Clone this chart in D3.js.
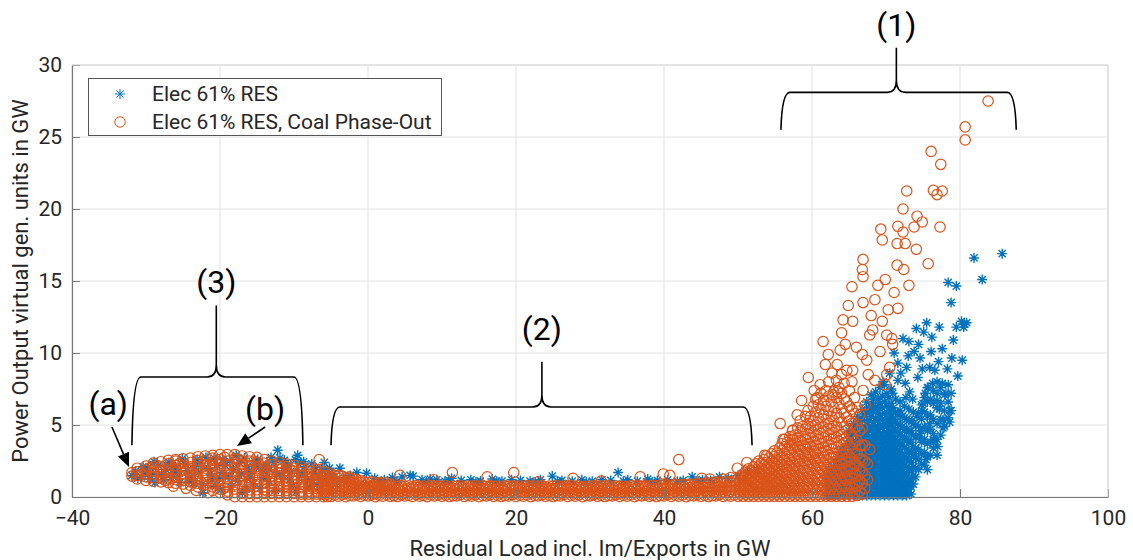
<!DOCTYPE html>
<html>
<head>
<meta charset="utf-8">
<script src="https://cdn.jsdelivr.net/npm/d3@7"></script>
<style>
  body { margin: 0; background: #fff; }
  svg text { font-family: Roboto, "Noto Sans", sans-serif; fill: #262626; }
</style>
</head>
<body>
<div id="chart"></div>
<script>
const xTicks = [-40, -20, 0, 20, 40, 60, 80, 100];
const yTicks = [0, 5, 10, 15, 20, 25, 30];
const seriesNames = ["Elec 61% RES", "Elec 61% RES, Coal Phase-Out"];

// Elec 61% RES (blue stars) -- [x, y] in GW
const blueBlob = [
  [-31.9,1.5],[-31.4,1.8],[-30.6,1.4],[-29.8,2.0],[-29.1,1.6],[-28.3,2.2],[-27.6,1.2],[-26.9,2.4],
  [-26.2,1.7],[-25.4,1.0],[-24.7,2.3],[-23.9,1.4],[-23.1,2.6],[-22.4,0.9],[-21.6,2.0],[-20.8,2.7],
  [-20.1,1.3],[-19.3,2.2],[-18.5,0.7],[-17.8,2.9],[-17.1,1.6],[-16.3,2.1],[-15.5,0.9],[-14.9,2.6],
  [-14.2,1.8],[-13.4,1.1],[-12.7,2.4],[-12.2,3.25],[-11.5,1.5],[-10.8,2.2],[-10.1,0.8],[-9.5,2.9],
  [-8.9,1.7],[-8.2,1.2],[-7.6,2.3],[-6.9,0.9],[-6.2,1.9],[-5.5,1.4],[-4.8,1.6],[-3.8,2.0],
  [-3.1,1.3],[-2.4,1.5],[-1.5,1.7],[-22.3,0.3],[-19.9,0.5],[-17.0,0.3],[-28.8,1.0],[-25.9,2.0],
  [-30.1,1.75],[-27.3,1.9],[-24.2,1.1],[-22.9,1.7],[-21.1,1.2],[-19.6,2.6],[-18.2,1.9],[-16.7,2.7],
  [-15.9,1.4],[-13.8,2.2],[-11.9,2.7],[-10.4,1.8],[-9.1,2.4],[-7.3,1.7],[-5.9,2.4],[-4.3,1.1],
  [-31.1,1.3],[-28.9,2.45],[-26.6,1.35],[-25.1,2.65],[-23.4,2.1],[-21.9,2.75],[-20.4,2.2],[-18.9,1.4],
  [-17.4,2.4],[-15.1,2.1],[-13.1,2.75],[-11.2,2.0],[-9.8,2.6],[-8.5,2.1],[-6.6,1.4],[-5.2,2.0],
  [-30.4,2.1],[-29.5,1.25],[-27.9,1.55],[-26.4,2.2],[-25.6,1.45],[-24.4,1.85],[-23.6,0.95],[-22.6,2.35],
  [-21.3,1.6],[-20.6,0.75],[-19.7,1.7],[-18.7,2.5],[-17.6,1.15],[-16.5,0.55],[-16.1,1.8],[-15.3,2.45],
  [-14.6,0.6],[-14.1,1.35],[-13.3,1.9],[-12.5,0.45],[-12.0,1.55],[-11.3,2.55],[-10.6,1.2],[-9.7,0.35],
  [-9.3,1.45],[-8.7,2.45],[-7.9,0.7],[-7.1,2.05],[-6.4,0.5],[-5.7,1.2]
];
const blueBand = [
  [-0.2,1.65],[0.9,1.3],[2.2,1.2],[3.3,1.35],[4.6,1.4],[5.7,1.5],[6.1,1.45],[7.3,1.2],[8.4,1.25],
  [9.3,1.2],[10.4,1.1],[11.3,1.3],[12.6,1.15],[13.9,1.2],[15.2,1.1],[16.8,1.25],[18.1,1.1],[19.4,1.2],
  [20.6,1.15],[21.9,1.1],[23.3,1.2],[24.9,1.45],[26.2,1.15],[27.6,1.1],[28.9,1.2],[30.3,1.1],[31.6,1.2],
  [32.8,1.15],[33.8,1.7],[35.1,1.2],[36.4,1.1],[37.8,1.25],[39.1,1.15],[40.5,1.2],[41.8,1.1],[43.8,1.4],
  [45.2,1.2],[46.3,1.15],[47.5,1.4],[48.7,1.3],[50.0,1.5],[51.3,1.7],[52.6,1.9],
  [1.6,1.05],[3.9,1.1],[7.9,1.05],[10.9,1.15],[14.6,1.05],[17.4,1.1],[22.6,1.05],[25.6,1.1],[29.5,1.05],
  [34.5,1.1],[38.4,1.05],[42.6,1.15],[44.6,1.1]
];
// columns: [x, y1, y2, ...]
const blueRiseCols = [
  [62.0,0.1,0.5,0.9,1.3],[62.3,0.3,0.7,1.1,1.6],[62.6,0.1,0.5,0.9,1.4,1.9],[62.9,0.3,0.7,1.2,1.6,2.1],
  [63.2,0.1,0.5,0.9,1.4,1.8,2.4],[63.5,0.3,0.7,1.1,1.6,2.0,2.6],[63.8,0.1,0.5,0.9,1.3,1.8,2.3,2.9],
  [64.1,0.3,0.7,1.1,1.5,2.0,2.5,3.2],[64.4,0.1,0.5,0.9,1.3,1.7,2.2,2.7,3.4],[64.7,0.3,0.7,1.1,1.5,1.9,2.4,2.9,3.7],
  [65.0,0.1,0.5,0.9,1.3,1.7,2.1,2.6,3.1,3.9,4.6],[65.3,0.3,0.7,1.1,1.5,1.9,2.3,2.8,3.4,4.2],
  [65.6,0.1,0.5,0.9,1.3,1.7,2.1,2.5,3.0,3.6,4.4,5.1],[65.9,0.3,0.7,1.1,1.5,1.9,2.3,2.7,3.2,3.8,4.7],
  [66.2,0.1,0.5,0.9,1.3,1.7,2.1,2.5,2.9,3.4,4.0,4.9,5.6],[66.5,0.3,0.7,1.1,1.5,1.9,2.3,2.7,3.1,3.6,4.3,5.2],
  [66.8,0.1,0.5,0.9,1.3,1.7,2.1,2.5,2.9,3.3,3.8,4.5,5.4,6.1],[67.1,0.3,0.7,1.1,1.5,1.9,2.3,2.7,3.1,3.5,4.1,4.8,5.7],
  [67.4,0.1,0.5,0.9,1.3,1.7,2.1,2.5,2.9,3.3,3.7,4.3,5.0,5.9,6.6],[67.7,0.3,0.7,1.1,1.5,1.9,2.3,2.7,3.1,3.5,3.9,4.6,5.3,6.2],
  [68.0,0.1,0.5,0.9,1.3,1.7,2.1,2.5,2.9,3.3,3.7,4.2,4.9,5.6,6.5,7.1],[68.3,0.3,0.7,1.1,1.5,1.9,2.3,2.7,3.1,3.5,4.0,4.5,5.2,6.0,6.8],
  [68.6,0.1,0.5,0.9,1.3,1.7,2.1,2.5,2.9,3.3,3.8,4.3,4.9,5.5,6.3,7.3],[68.9,0.3,0.7,1.1,1.5,1.9,2.3,2.7,3.1,3.6,4.1,4.7,5.3,6.0,6.8],
  [69.2,0.1,0.5,0.9,1.3,1.7,2.1,2.5,2.9,3.4,3.9,4.4,5.0,5.7,6.5,7.6],[69.5,0.3,0.7,1.1,1.5,1.9,2.3,2.7,3.2,3.7,4.2,4.8,5.4,6.2,7.0],
  [69.8,0.1,0.5,0.9,1.3,1.7,2.1,2.5,3.0,3.5,4.0,4.5,5.1,5.8,6.6,7.8],[70.1,0.3,0.7,1.1,1.5,1.9,2.3,2.8,3.3,3.8,4.3,4.9,5.5,6.3,7.2],
  [70.4,0.1,0.5,0.9,1.3,1.7,2.1,2.6,3.1,3.6,4.1,4.6,5.2,6.0,6.9],[70.7,0.3,0.7,1.1,1.5,1.9,2.4,2.9,3.4,3.9,4.4,5.0,5.7,6.5,7.5],
  [71.0,0.1,0.5,0.9,1.3,1.7,2.2,2.7,3.2,3.7,4.2,4.8,5.4,6.2],[71.3,0.3,0.7,1.1,1.5,2.0,2.5,3.0,3.5,4.0,4.6,5.2,5.9,6.8],
  [71.6,0.1,0.5,0.9,1.3,1.8,2.3,2.8,3.3,3.9,4.5,5.1,5.8],[71.9,0.3,0.7,1.1,1.6,2.1,2.6,3.1,3.7,4.3,5.0,5.7,6.6],
  [72.2,0.1,0.5,0.9,1.4,1.9,2.4,3.0,3.6,4.2,4.9,5.6],[72.5,0.3,0.7,1.2,1.7,2.2,2.8,3.4,4.0,4.7,5.5,6.3],
  [72.8,0.1,0.5,1.0,1.5,2.1,2.7,3.3,4.0,4.7,5.4],[73.1,0.3,0.8,1.3,1.9,2.5,3.1,3.8,4.5,5.3,6.1],
  [73.4,0.2,0.7,1.2,1.8,2.4,3.1,3.8,4.6],[73.7,0.9,1.5,2.1,2.8,3.5,4.3,5.1,5.9],[74.0,1.4,2.0,2.7,3.4,4.2,5.0],
  [74.4,1.9,2.6,3.3,4.1,4.9,5.8],[74.8,2.3,3.0,3.8,4.6,5.4,6.4],[75.2,2.2,3.1,4.0,4.9,5.9,6.9],
  [75.6,1.9,2.8,3.7,4.6,5.6,6.6,7.6],[76.0,2.9,3.8,4.7,5.7,6.8],[76.4,3.4,4.4,5.4,6.5,7.4],
  [76.9,2.9,4.0,5.1,6.2,7.2,8.0],[77.4,4.3,5.4,6.5,7.6],[77.9,4.9,6.0,7.1],[78.4,5.5,6.6,7.8],[78.8,6.0,7.2]
];
const blueTop = [
  [85.7,16.9],[81.9,16.6],[83.0,15.1],[78.4,14.9],[79.5,14.65],[78.8,13.5],[80.9,12.1],[80.5,11.8],
  [79.5,11.8],[77.2,11.8],[75.5,12.1],[74.1,11.7],[75.1,11.45],[76.2,11.1],[73.1,10.8],[77.6,10.3],
  [78.9,9.65],[80.3,9.5],[73.8,10.1],[74.6,9.65],[71.6,9.3],[72.8,9.0],[76.6,8.8],[79.7,8.4],[74.3,8.3],
  [71.6,8.1],[77.6,7.9],[75.7,7.6],[73.2,7.3],[70.5,8.6],[76.9,6.7],[77.7,5.35],[78.6,6.0],[76.4,4.0],
  [68.2,6.0],[70.5,5.35],[71.9,6.0],[74.9,6.0],[80.6,12.0],[80.2,12.2],[75.9,9.0],[73.0,9.8],[72.3,11.0],
  [70.9,7.2],[69.6,8.0],[72.0,8.6],[74.9,8.9],[76.1,10.1],[78.3,8.9],[73.6,6.8],[75.3,7.2],[77.1,9.4],
  [71.1,10.0],[79.1,10.9],[74.4,10.6],[72.6,7.9],
  [73.9,3.0],[74.6,4.4],[75.4,2.6],[75.9,5.1],[76.6,3.9],[77.2,6.1],[77.7,4.8],[78.1,7.2],[74.2,5.6],
  [75.0,6.5],[76.3,7.9],[73.5,5.3],[72.7,6.9],[77.0,3.5],[78.6,5.2]
];

// Elec 61% RES, Coal Phase-Out (orange circles)
const orangeBlobCols = [
  [-31.9,1.45,1.7],[-31.2,1.25,1.5,1.75,2.0],[-30.0,1.15,1.4,1.6,1.85,2.15],[-29.0,1.1,1.35,1.6,1.85,2.1,2.35],
  [-28.0,1.05,1.3,1.55,1.85,2.1,2.45],[-27.0,1.0,1.25,1.5,1.75,2.0,2.3,2.55],
  [-26.0,0.95,1.2,1.45,1.7,1.95,2.2,2.5,2.6],[-25.0,0.9,1.15,1.4,1.65,1.9,2.15,2.4,2.65],
  [-24.0,0.8,1.05,1.3,1.6,1.85,2.1,2.4,2.7],[-23.0,0.7,0.95,1.25,1.5,1.8,2.05,2.3,2.55,2.8],
  [-22.0,0.6,0.85,1.15,1.45,1.7,2.0,2.25,2.5,2.85],[-21.0,0.45,0.7,1.0,1.3,1.55,1.85,2.15,2.4,2.7,2.9],
  [-20.0,0.3,0.55,0.85,1.15,1.45,1.75,2.0,2.3,2.6,2.95],[-19.0,0.15,0.4,0.7,1.0,1.3,1.6,1.9,2.2,2.5,2.95],
  [-18.0,0.02,0.3,0.55,0.85,1.15,1.45,1.75,2.05,2.35,2.65,2.95],[-17.0,0.02,0.25,0.55,0.8,1.1,1.4,1.65,1.95,2.25,2.5,2.85],
  [-16.0,0.02,0.25,0.5,0.8,1.05,1.35,1.6,1.9,2.2,2.5,2.8],[-15.0,0.02,0.25,0.5,0.75,1.0,1.3,1.55,1.85,2.1,2.4,2.75],
  [-14.0,0.02,0.25,0.5,0.7,1.0,1.25,1.5,1.8,2.05,2.35,2.6],[-13.0,0.02,0.25,0.45,0.7,0.95,1.2,1.45,1.75,2.0,2.25,2.5],
  [-12.0,0.02,0.25,0.45,0.7,0.9,1.15,1.4,1.65,1.9,2.15,2.4],[-11.0,0.02,0.25,0.45,0.65,0.9,1.1,1.35,1.6,1.85,2.1,2.3],
  [-10.0,0.02,0.25,0.45,0.65,0.85,1.1,1.3,1.55,1.8,2.0,2.2],[-9.0,0.02,0.2,0.4,0.65,0.85,1.05,1.25,1.5,1.7,1.9,2.1],
  [-8.0,0.02,0.2,0.4,0.6,0.8,1.0,1.2,1.4,1.6,1.8,2.0],[-7.0,0.02,0.2,0.4,0.6,0.8,0.95,1.15,1.35,1.55,1.75,1.9],
  [-6.0,0.02,0.2,0.4,0.55,0.75,0.95,1.1,1.3,1.5,1.8],[-5.5,0.03,0.2,0.4,0.55,0.75,0.9,1.1,1.25,1.45,1.7]
];
const orangeBandCols = [
  [-5.0,0.03,0.28,0.55,0.84,1.05,1.35,1.6],[-4.5,0.14,0.38,0.66,0.93,1.15,1.5],[-4.0,0.06,0.31,0.58,0.8,1.05,1.3,1.5],
  [-3.5,0.17,0.42,0.7,0.88,1.15,1.45],[-3.0,0.02,0.26,0.52,0.79,1.05,1.35],[-2.5,0.11,0.36,0.63,0.86,1.1,1.3],
  [-2.0,0.07,0.33,0.6,0.77,1.0,1.25],[-1.5,0.15,0.4,0.67,0.82,1.05,1.2],[-1.0,0.04,0.27,0.54,0.76,1.0,1.15],
  [-0.5,0.12,0.37,0.62,0.8,1.05],[0.0,0.08,0.3,0.57,0.74,1.0],[0.5,0.16,0.41,0.65,0.79,1.05],
  [1.0,0.02,0.25,0.51,0.73,0.95],[1.5,0.13,0.35,0.6,0.78,1.0],[2.0,0.06,0.32,0.56,0.72,0.95],[2.5,0.18,0.43,0.66,0.8,0.98],
  [3.0,0.05,0.28,0.53,0.75,0.92],[3.5,0.1,0.34,0.61,0.77],[4.0,0.03,0.3,0.55,0.71],[4.5,0.15,0.39,0.64,0.79],
  [5.0,0.07,0.26,0.5,0.74],[5.5,0.12,0.36,0.62,0.78],[6.0,0.04,0.31,0.57,0.72],[6.5,0.17,0.42,0.67,0.8],
  [7.0,0.06,0.27,0.52,0.75],[7.5,0.11,0.35,0.6,0.77],[8.0,0.02,0.29,0.54,0.71],[8.5,0.14,0.4,0.65,0.79],
  [9.0,0.08,0.33,0.58,0.74],[9.5,0.16,0.37,0.63,0.78],[10.0,0.05,0.26,0.51,0.73],[10.5,0.13,0.38,0.61,0.8],
  [11.0,0.03,0.3,0.56,0.72],[11.5,0.1,0.34,0.6,0.76],[12.0,0.07,0.28,0.53,0.74],[12.5,0.18,0.41,0.66,0.79],
  [13.0,0.04,0.32,0.55,0.71],[13.5,0.12,0.36,0.62,0.77],[14.0,0.06,0.27,0.5,0.75],[14.5,0.15,0.39,0.64,0.8],
  [15.0,0.02,0.31,0.57,0.73],[15.5,0.11,0.35,0.59,0.78],[16.0,0.08,0.29,0.54,0.72],[16.5,0.16,0.4,0.65,0.79],
  [17.0,0.05,0.33,0.56,0.74],[17.5,0.13,0.37,0.61,0.76],[18.0,0.03,0.26,0.52,0.71],[18.5,0.1,0.38,0.63,0.8],
  [19.0,0.07,0.3,0.55,0.73],[19.5,0.17,0.42,0.66,0.78],[20.0,0.04,0.28,0.53,0.75],[20.5,0.12,0.34,0.6,0.77],
  [21.0,0.06,0.31,0.57,0.72],[21.5,0.14,0.39,0.64,0.79],[22.0,0.02,0.27,0.51,0.74],[22.5,0.11,0.36,0.62,0.78],
  [23.0,0.08,0.32,0.55,0.73],[23.5,0.16,0.41,0.65,0.8],[24.0,0.05,0.29,0.54,0.71],[24.5,0.13,0.35,0.6,0.76],
  [25.0,0.03,0.3,0.56,0.74],[25.5,0.1,0.38,0.63,0.79],[26.0,0.07,0.26,0.52,0.72],[26.5,0.18,0.4,0.66,0.77],
  [27.0,0.04,0.33,0.58,0.75],[27.5,0.12,0.37,0.61,0.8],[28.0,0.06,0.28,0.53,0.73],[28.5,0.15,0.39,0.64,0.78],
  [29.0,0.02,0.31,0.55,0.71],[29.5,0.11,0.34,0.6,0.76],[30.0,0.08,0.29,0.54,0.74],[30.5,0.16,0.42,0.67,0.79],
  [31.0,0.05,0.27,0.51,0.72],[31.5,0.13,0.36,0.62,0.77],[32.0,0.03,0.32,0.57,0.75],[32.5,0.1,0.38,0.63,0.8],
  [33.0,0.07,0.3,0.55,0.73],[33.5,0.17,0.41,0.65,0.78],[34.0,0.04,0.26,0.52,0.74],[34.5,0.12,0.35,0.6,0.76],
  [35.0,0.06,0.33,0.58,0.72],[35.5,0.14,0.39,0.64,0.79],[36.0,0.02,0.28,0.53,0.75],[36.5,0.11,0.37,0.62,0.8],
  [37.0,0.08,0.31,0.56,0.74],[37.5,0.16,0.4,0.66,0.78],[38.0,0.05,0.29,0.54,0.76],[38.5,0.13,0.36,0.61,0.81],
  [39.0,0.03,0.32,0.57,0.77],[39.5,0.1,0.38,0.64,0.83],[40.0,0.07,0.3,0.58,0.79],[40.5,0.17,0.42,0.67,0.85],
  [41.0,0.04,0.28,0.55,0.8],[41.5,0.12,0.37,0.63,0.86],[42.0,0.06,0.33,0.6,0.82],[42.5,0.14,0.4,0.68,0.88],
  [43.0,0.02,0.3,0.57,0.84],[43.5,0.11,0.38,0.65,0.9],[44.0,0.08,0.34,0.62,0.87],[44.5,0.16,0.43,0.7,0.93],
  [45.0,0.05,0.31,0.6,0.89],[45.5,0.13,0.4,0.68,0.96],[46.0,0.03,0.35,0.64,0.92],[46.5,0.1,0.42,0.72,1.0],
  [47.0,0.07,0.37,0.67,0.97],[47.5,0.17,0.46,0.76,1.05],[48.0,0.04,0.36,0.68,1.0,1.25],[48.5,0.12,0.44,0.76,1.08],
  [49.0,0.06,0.39,0.72,1.05,1.35],[49.5,0.14,0.47,0.8,1.12]
];
const orangeRiseCols = [
  [50.0,0.05,0.35,0.65,0.95,1.25],[50.35,0.2,0.5,0.8,1.1,1.45],[50.7,0.05,0.35,0.65,0.95,1.3,1.6],
  [51.05,0.2,0.5,0.8,1.1,1.45,1.8],[51.4,0.05,0.35,0.65,0.95,1.3,1.65,1.95],[51.75,0.2,0.5,0.8,1.15,1.5,1.85],
  [52.1,0.05,0.35,0.65,1.0,1.35,1.7,2.1],[52.45,0.2,0.5,0.85,1.2,1.55,1.9,2.3],
  [52.8,0.05,0.35,0.7,1.05,1.4,1.75,2.1,2.5],[53.15,0.2,0.55,0.9,1.25,1.6,1.95,2.35],
  [53.5,0.05,0.4,0.75,1.1,1.45,1.8,2.2,2.6],[53.85,0.2,0.55,0.9,1.25,1.6,2.0,2.4,2.85],
  [54.2,0.05,0.4,0.75,1.1,1.5,1.9,2.3,2.7],[54.55,0.2,0.55,0.9,1.3,1.7,2.1,2.5,3.0],
  [54.9,0.05,0.4,0.75,1.15,1.55,1.95,2.35,2.8,3.2],[55.25,0.2,0.55,0.95,1.35,1.75,2.15,2.6,3.05],
  [55.6,0.05,0.4,0.8,1.2,1.6,2.0,2.45,2.9,3.4],[55.95,0.2,0.6,1.0,1.4,1.8,2.25,2.7,3.2,3.7],
  [56.3,0.05,0.4,0.8,1.2,1.65,2.1,2.55,3.0,3.5,4.0],[56.65,0.2,0.6,1.0,1.45,1.9,2.35,2.8,3.3,3.8],
  [57.0,0.05,0.45,0.85,1.25,1.7,2.15,2.6,3.1,3.6,4.2],[57.35,0.2,0.6,1.05,1.5,1.95,2.4,2.9,3.4,4.0,4.6],
  [57.7,0.05,0.45,0.85,1.3,1.75,2.2,2.7,3.2,3.75,4.3],[58.05,0.2,0.6,1.05,1.5,1.95,2.45,2.95,3.5,4.1,4.8],
  [58.4,0.05,0.45,0.9,1.35,1.8,2.3,2.8,3.3,3.9,4.5,5.3],[58.75,0.2,0.65,1.1,1.55,2.0,2.5,3.05,3.6,4.2,4.9],
  [59.1,0.05,0.45,0.9,1.35,1.85,2.35,2.85,3.4,4.0,4.7,5.6],[59.45,0.2,0.65,1.1,1.6,2.1,2.6,3.1,3.7,4.35,5.1,6.0],
  [59.8,0.05,0.5,0.95,1.4,1.9,2.4,2.95,3.5,4.1,4.8,5.6],[60.15,0.2,0.65,1.15,1.65,2.15,2.7,3.25,3.85,4.5,5.3,6.3],
  [60.5,0.05,0.5,0.95,1.45,1.95,2.5,3.05,3.6,4.25,5.0,5.9,6.8],[60.85,0.2,0.7,1.2,1.7,2.2,2.75,3.35,4.0,4.7,5.5,6.4],
  [61.2,0.05,0.5,1.0,1.5,2.0,2.55,3.1,3.7,4.4,5.2,6.1,7.2],[61.55,0.2,0.7,1.2,1.75,2.3,2.85,3.45,4.1,4.85,5.7,6.7],
  [61.9,0.05,0.5,1.0,1.5,2.05,2.6,3.2,3.85,4.55,5.4,6.3,7.4],[62.25,0.2,0.7,1.25,1.8,2.35,2.95,3.6,4.3,5.1,6.0,7.0,8.0],
  [62.6,0.05,0.55,1.05,1.6,2.15,2.75,3.35,4.0,4.75,5.6,6.6],[62.95,0.2,0.75,1.3,1.85,2.45,3.05,3.7,4.45,5.3,6.2,7.3],
  [63.3,0.05,0.55,1.1,1.65,2.2,2.8,3.45,4.15,4.9,5.8,6.9,8.1],[63.65,0.2,0.75,1.3,1.9,2.5,3.15,3.85,4.6,5.5,6.5,7.6],
  [64.0,0.05,0.6,1.15,1.7,2.3,2.95,3.6,4.35,5.2,6.1,7.2,8.5],[64.35,0.2,0.8,1.4,2.0,2.65,3.3,4.05,4.85,5.8,6.8,7.9],
  [64.7,0.05,0.6,1.2,1.8,2.45,3.1,3.85,4.65,5.55,6.6,8.8],[65.05,0.25,0.85,1.45,2.1,2.8,3.55,4.35,5.3,6.3,7.4],
  [65.4,0.05,0.65,1.3,1.95,2.65,3.4,4.2,5.1,6.1,8.0],[65.75,0.3,0.95,1.6,2.3,3.05,3.85,4.8,5.8,6.9],
  [66.1,0.1,0.75,1.45,2.2,3.0,3.9,4.9,6.2],[66.45,0.4,1.1,1.85,2.65,3.55,4.6,5.7],
  [66.8,0.2,0.95,1.75,2.6,3.6,4.8],[67.15,0.6,1.5,2.5,3.6],[67.5,1.2,2.3]
];
const orangeBandOut = [
  [4.3,1.5],[11.4,1.7],[16.1,1.4],[19.7,1.7],[23.0,1.05],[27.7,1.3],[36.8,1.4],[39.9,1.6],[40.8,1.5],
  [42.0,2.6],[46.2,1.25],[49.9,2.0],[-2.5,1.4],[8.9,1.2],[31.5,1.1],[45.1,1.3],
  [-24.6,0.6],[-21.6,0.3],[-26.3,0.75],[-23.2,0.45],[-6.6,2.6],
  [-30.6,1.6],[-28.5,2.2],[-26.5,1.3],[-24.5,1.95],[-22.5,1.0],[-20.5,2.5],[-18.5,1.6],[-16.5,0.9],
  [-14.5,2.2],[-12.5,1.2],[-10.5,1.9],[-8.5,0.8],[-7.5,1.6],
  [-29.6,2.0],[-27.4,1.15],[-25.5,2.3],[-23.6,1.55],[-21.4,2.2],[-19.5,0.6],[-17.6,2.6],[-15.6,1.4],
  [-13.6,0.4],[-11.6,2.0],[-9.6,1.1],[-7.6,0.3],[-19.4,2.75],[-15.4,2.5],[-11.4,0.7],[-13.5,1.7]
];
const orangeTop = [
  [83.8,27.5],[80.7,25.7],[80.7,24.8],[76.1,24.0],[77.4,23.1],[72.8,21.25],[76.4,21.3],[77.6,21.25],
  [76.9,21.0],[72.3,20.0],[74.2,19.5],[74.9,19.1],[77.3,18.75],[71.6,18.8],[73.8,18.75],[69.3,18.6],
  [72.3,18.4],[69.5,17.85],[71.5,17.6],[72.6,17.6],[74.1,17.2],[75.7,16.2],[66.9,16.5],[66.8,15.8],
  [66.9,15.3],[71.5,16.1],[72.4,15.8],[73.1,14.7],[65.4,14.6],[68.9,14.7],[69.9,15.1],[71.1,14.2],
  [64.9,13.3],[66.9,13.5],[68.5,13.7],[70.3,13.0],[71.6,13.1],[64.2,12.3],[65.5,12.2],[69.5,12.2],
  [70.8,11.0],[67.8,11.25],[68.2,11.6],[70.1,11.25],[64.5,10.6],[61.5,10.8],[63.8,10.2],[66.8,9.9],
  [69.2,10.1],[70.9,10.6],[67.4,9.5],[62.2,9.9],[61.8,9.2],[63.4,9.2],[65.5,8.8],[67.6,8.5],
  [68.5,8.1],[70.1,8.5],[70.5,9.0],[69.9,7.8],[66.9,7.4],[63.5,7.3],[59.5,8.3],[61.1,7.8],[62.8,7.1],
  [58.6,6.7],[67.2,6.4],[55.7,5.1],[58.0,5.7],[57.4,4.65],[56.1,4.0],[53.6,2.9],[51.2,2.4],[67.8,3.3],
  [60.7,6.9],[64.0,11.4],[62.7,8.6],[66.0,10.4],[68.0,12.6],[60.3,7.4]
];

const cols = (a) => a.flatMap(([x0, ...ys]) => ys.map((v) => [x0, v]));
const bluePts = blueBlob.concat(blueBand, cols(blueRiseCols), blueTop);
const orangePts = cols(orangeBlobCols).concat(cols(orangeBandCols), cols(orangeRiseCols), orangeBandOut, orangeTop);

const w = 1133;
const h = 560;
const blue = "#0072BD";
const orange = "#D95319";

const svg = d3.select("#chart").append("svg").attr("width", w).attr("height", h);

const x = d3.scaleLinear().domain([-40, 100]).range([72, 1108]);
const y = d3.scaleLinear().domain([0, 30]).range([497, 65]);

// grid
svg.append("g").selectAll("line").data(xTicks).join("line")
  .attr("x1", (d) => x(d)).attr("x2", (d) => x(d))
  .attr("y1", y(0)).attr("y2", y(30))
  .attr("stroke", "#e3e3e3");
svg.append("g").selectAll("line").data(yTicks).join("line")
  .attr("x1", x(-40)).attr("x2", x(100))
  .attr("y1", (d) => y(d)).attr("y2", (d) => y(d))
  .attr("stroke", "#e3e3e3");

// markers
const star = "M-5,0L5,0M0,-5L0,5M-3.6,-3.6L3.6,3.6M-3.6,3.6L3.6,-3.6";
svg.append("g").selectAll("path").data(bluePts).join("path")
  .attr("d", star)
  .attr("transform", (d) => `translate(${x(d[0])},${y(d[1])})`)
  .attr("stroke", blue).attr("stroke-width", 1.4).attr("fill", "none");

svg.append("g").selectAll("circle").data(orangePts).join("circle")
  .attr("cx", (d) => x(d[0])).attr("cy", (d) => y(d[1])).attr("r", 5.2)
  .attr("stroke", orange).attr("stroke-width", 1.2).attr("fill", "none");

// axes
const xAxis = svg.append("g").attr("transform", `translate(0,${y(0)})`)
  .call(d3.axisBottom(x).tickValues(xTicks).tickSize(-8).tickSizeOuter(0).tickPadding(13));
const yAxis = svg.append("g").attr("transform", `translate(${x(-40)},0)`)
  .call(d3.axisLeft(y).tickValues(yTicks).tickSize(-8).tickSizeOuter(0).tickPadding(10));
[xAxis, yAxis].forEach((g) => {
  g.select(".domain").attr("stroke", "#777").attr("stroke-width", 1.2);
  g.selectAll(".tick line").attr("stroke", "#777");
  g.selectAll(".tick text").attr("font-size", 21).attr("font-family", "Roboto").attr("fill", "#262626");
});
// top / right border
svg.append("path")
  .attr("d", `M${x(-40)},${y(30)}H${x(100)}V${y(0)}`)
  .attr("stroke", "#d6d6d6").attr("fill", "none");

// axis titles
svg.append("text").attr("x", 590).attr("y", 556).attr("text-anchor", "middle")
  .attr("font-size", 22).text("Residual Load incl. Im/Exports in GW");
svg.append("text").attr("transform", "translate(28,281) rotate(-90)").attr("text-anchor", "middle")
  .attr("font-size", 22).text("Power Output virtual gen. units in GW");

// legend
const lg = svg.append("g");
lg.append("rect").attr("x", 88.5).attr("y", 78.5).attr("width", 353).attr("height", 57)
  .attr("fill", "#fff").attr("stroke", "#555");
lg.append("path").attr("d", star).attr("transform", "translate(120,94)")
  .attr("stroke", blue).attr("fill", "none");
lg.append("circle").attr("cx", 120).attr("cy", 122).attr("r", 5.2)
  .attr("stroke", orange).attr("fill", "none");
lg.selectAll("text.item").data(seriesNames).join("text").attr("class", "item")
  .attr("x", 152).attr("y", (d, i) => 101 + i * 28).attr("font-size", 21).text((d) => d);

// annotations (in data units)
const ann = svg.append("g").attr("fill", "none").attr("stroke", "#000").attr("stroke-width", 1.6);
function brace(x1, x2, xm, yH, yEnd, yPeak) {
  const X1 = x(x1), X2 = x(x2), XM = x(xm), YH = y(yH), YE = y(yEnd), YP = y(yPeak);
  return `M${X1},${YE}Q${X1 + 1},${YH} ${X1 + 9},${YH}H${XM - 9}Q${XM},${YH} ${XM},${YH - 12}V${YP}` +
    `M${XM},${YH - 12}Q${XM},${YH} ${XM + 9},${YH}H${X2 - 9}Q${X2 - 1},${YH} ${X2},${YE}`;
}
ann.append("path").attr("d", brace(55.8, 87.6, 71.4, 28.1, 25.5, 31.2));
ann.append("path").attr("d", brace(-5.0, 51.9, 23.5, 6.25, 3.6, 9.4));
ann.append("path").attr("d", brace(-31.9, -8.8, -20.5, 8.33, 3.6, 13.3));

const labels = [["(1)", 71.4, 32.0], ["(2)", 23.5, 10.9], ["(3)", -20.5, 14.2], ["(a)", -35.1, 5.7], ["(b)", -13.9, 5.35]];
svg.selectAll("text.ann").data(labels).join("text").attr("class", "ann")
  .attr("x", (d) => x(d[1])).attr("y", (d) => y(d[2])).attr("text-anchor", "middle")
  .attr("font-family", "Liberation Sans, Arial, sans-serif").attr("font-size", 32)
  .style("fill", "#000").text((d) => d[0]);

function arrow(x0, y0, x1, y1) {
  const X0 = x(x0), Y0 = y(y0), X1 = x(x1), Y1 = y(y1);
  const a = Math.atan2(Y1 - Y0, X1 - X0), L = 14, W = 6;
  const bx = X1 - L * Math.cos(a), by = Y1 - L * Math.sin(a);
  ann.append("line").attr("x1", X0).attr("y1", Y0).attr("x2", bx).attr("y2", by);
  ann.append("path")
    .attr("d", `M${X1},${Y1}L${bx + W * Math.sin(a)},${by - W * Math.cos(a)}L${bx - W * Math.sin(a)},${by + W * Math.cos(a)}Z`)
    .attr("fill", "#000").attr("stroke", "none");
}
arrow(-34.6, 4.86, -32.3, 2.08);
arrow(-13.9, 4.86, -17.7, 3.54);
</script>
</body>
</html>
